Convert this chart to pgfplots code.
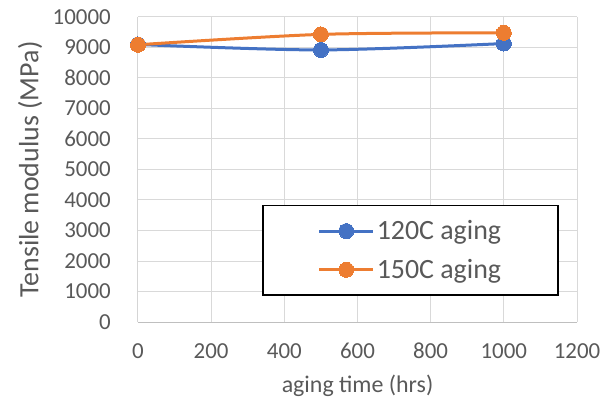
\documentclass[border=0pt]{standalone}
\usepackage{fontspec}
\setmainfont{Carlito}
\usepackage{pgfplots}
\pgfplotsset{compat=1.18}
\definecolor{txtgray}{HTML}{595959}
\definecolor{gridgray}{HTML}{D9D9D9}
\definecolor{axgray}{HTML}{BFBFBF}
\definecolor{xlblue}{HTML}{4472C4}
\definecolor{xlorange}{HTML}{ED7D31}
\begin{document}
\begin{tikzpicture}
\path[use as bounding box] (-138bp,-82bp) rectangle (468bp,322bp);
\begin{axis}[
  at={(0,0)}, anchor=origin,
  scale only axis, width=439bp, height=305bp,
  xmin=0, xmax=1200, ymin=0, ymax=10000,
  xtick={0,200,...,1200}, ytick={0,1000,...,10000},
  grid=major, major grid style={gridgray, line width=1bp},
  axis line style={draw=none},
  tick style={draw=none},
  axis x line*=bottom, axis y line*=left,
  /pgf/number format/assume math mode=true,
  /pgf/number format/set thousands separator={},
  scaled ticks=false,
  tick label style={font=\fontsize{23}{26}\selectfont, text=txtgray, inner sep=0pt},
  xticklabel shift=21bp,
  yticklabel shift=27bp,
  xlabel={aging time (hrs)}, ylabel={Tensile modulus (MPa)},
  label style={font=\fontsize{24}{28}\selectfont, text=txtgray},
  ylabel style={font=\fontsize{28}{32}\selectfont, at={(-108bp,152.5bp)}, anchor=center, rotate=0},
  xlabel style={at={(219.5bp,-64bp)}, anchor=center},
  legend style={at={(rel axis cs:0.2825,0.3836)}, anchor=north west,
    draw=black, line width=1.5bp, inner xsep=55bp, inner ysep=13bp, row sep=14bp,
    font=\fontsize{28}{31}\selectfont, text=txtgray},
  legend cell align=left,
  legend image code/.code={\draw[#1, mark repeat=2, mark phase=2] plot coordinates {(0bp,0bp) (27bp,0bp) (54bp,0bp)};},
]
\draw[axgray, line width=1bp] (axis cs:0,0) -- (axis cs:1200,0);
\draw[axgray, line width=1bp] (axis cs:0,0) -- (axis cs:0,10000);
\addplot[xlblue, line width=3bp, smooth, tension=0.5, mark=*, mark size=7.5bp, mark options={solid, fill=xlblue, draw=xlblue, line width=0bp}]
  coordinates {(0,9100) (500,8920) (1000,9130)};
\addlegendentry{120C aging}
\addplot[xlorange, line width=3bp, smooth, tension=0.5, mark=*, mark size=7.5bp, mark options={solid, fill=xlorange, draw=xlorange, line width=0bp}]
  coordinates {(0,9090) (500,9430) (1000,9480)};
\addlegendentry{150C aging}
\end{axis}
\end{tikzpicture}
\end{document}
